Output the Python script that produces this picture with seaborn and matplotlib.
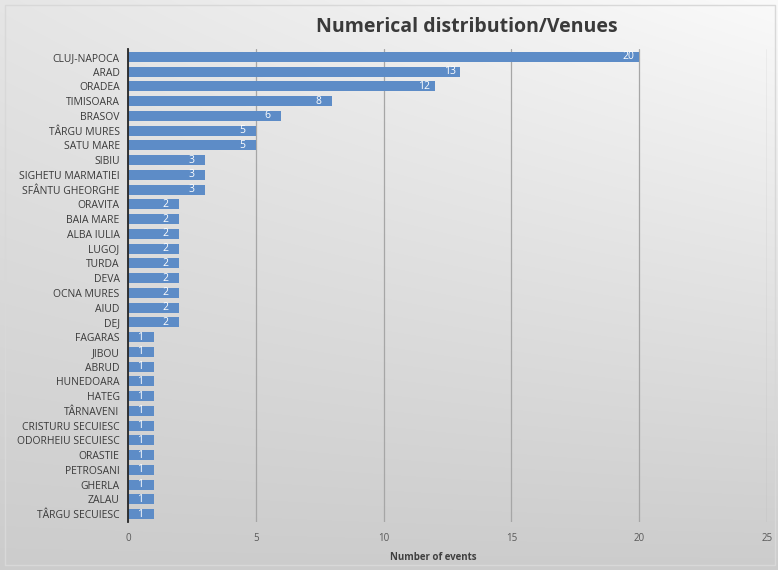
import numpy as np
import pandas as pd
import matplotlib
matplotlib.use("Agg")
import matplotlib.pyplot as plt
import seaborn as sns

cities = ["CLUJ-NAPOCA", "ARAD", "ORADEA", "TIMISOARA", "BRASOV", "TÂRGU MURES",
          "SATU MARE", "SIBIU", "SIGHETU MARMATIEI", "SFÂNTU GHEORGHE", "ORAVITA",
          "BAIA MARE", "ALBA IULIA", "LUGOJ", "TURDA", "DEVA", "OCNA MURES", "AIUD",
          "DEJ", "FAGARAS", "JIBOU", "ABRUD", "HUNEDOARA", "HATEG", "TÂRNAVENI",
          "CRISTURU SECUIESC", "ODORHEIU SECUIESC", "ORASTIE", "PETROSANI", "GHERLA",
          "ZALAU", "TÂRGU SECUIESC"]
events = [20, 13, 12, 8, 6, 5, 5, 3, 3, 3, 2, 2, 2, 2, 2, 2, 2, 2, 2,
          1, 1, 1, 1, 1, 1, 1, 1, 1, 1, 1, 1, 1]
x_ticks = [0, 5, 10, 15, 20, 25]

df = pd.DataFrame({"city": cities, "events": events})

sns.set_theme(style="white")
plt.rcParams["font.family"] = ["Open Sans", "DejaVu Sans"]

fig = plt.figure(figsize=(7.78, 5.70), dpi=100)

# background gradient
bg = fig.add_axes([0, 0, 1, 1], zorder=-10)
h, w = 570, 778
yy, xx = np.mgrid[0:h, 0:w]
top = 1 - yy / h
g = 0.80 + top * (0.10 + 0.08 * (xx / w))
img = np.dstack([g, g, g])
bg.imshow(img, extent=[0, 1, 0, 1], aspect="auto", origin="upper")
bg.plot([0.007, 0.996, 0.996, 0.007, 0.007], [0.008, 0.008, 0.992, 0.992, 0.008],
        color="#d8d8d8", lw=1)
bg.set_xlim(0, 1); bg.set_ylim(0, 1)
bg.axis("off")

ax = fig.add_axes([0.1645, 0.0849, 0.8214, 0.8284])
ax.set_facecolor("none")
sns.barplot(data=df, x="events", y="city", orient="h", color="#5d8cc7",
            saturation=1, width=0.68, linewidth=0, edgecolor="none", ax=ax)

ax.set_xlim(0, 25)
ax.set_xticks(x_ticks)
ax.set_xticklabels([str(v) for v in x_ticks], fontsize=7, color="#595959")
ax.tick_params(axis="y", labelsize=7.5, colors="#3a3a3a", length=0, pad=6)
ax.tick_params(axis="x", length=0, pad=8)
ax.grid(axis="x", color="#a6a6a6", lw=0.9)
ax.set_axisbelow(True)
for s in ["top", "right", "bottom"]:
    ax.spines[s].set_visible(False)
ax.spines["left"].set_color("#262626")
ax.spines["left"].set_linewidth(1.3)
ax.set_ylabel("")
ax.set_xlabel("Number of events", fontsize=7, color="#404040", fontweight="bold")
ax.xaxis.set_label_coords(0.478, -0.065)

for c in ax.containers:
    ax.bar_label(c, labels=[str(v) for v in events], padding=-12, color="white",
                 fontsize=7.5)

fig.text(0.6, 0.952, "Numerical distribution/Venues", ha="center", va="center",
         fontsize=14, fontweight="bold", color="#3a3a3a")

fig.savefig("out.png", dpi=100)
